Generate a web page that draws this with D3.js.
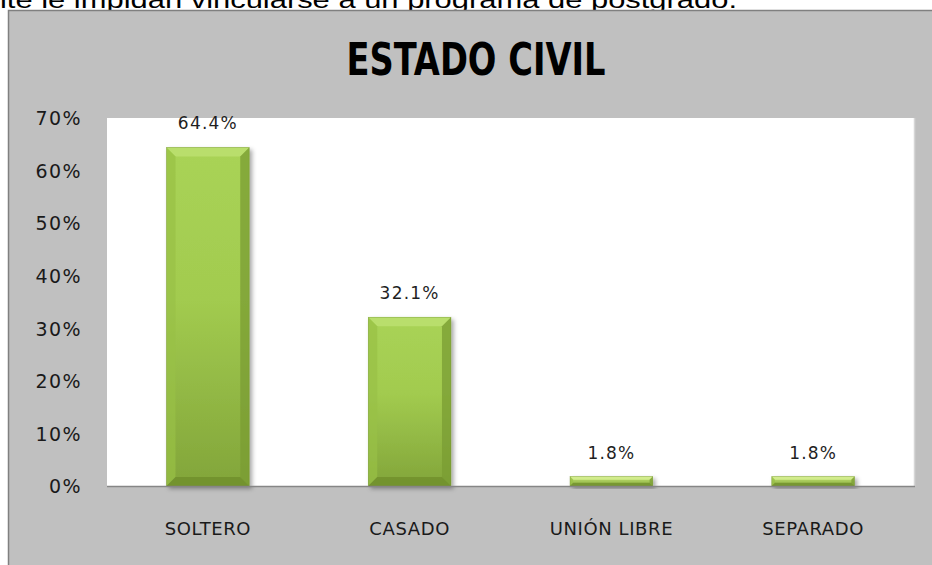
<!DOCTYPE html>
<html>
<head>
<meta charset="utf-8">
<script src="https://cdn.jsdelivr.net/npm/d3@7/dist/d3.min.js"></script>
<style>
  html, body { margin: 0; padding: 0; background: #ffffff; }
  svg { display: block; }
</style>
</head>
<body>
<svg id="chart" width="932" height="565"></svg>
<script>
// Estado civil de los encuestados
const categories = ["SOLTERO", "CASADO", "UNIÓN LIBRE", "SEPARADO"];
const values = [0.644, 0.321, 0.018, 0.018];
const valueLabels = ["64.4%", "32.1%", "1.8%", "1.8%"];
const yTicks = [0, 0.1, 0.2, 0.3, 0.4, 0.5, 0.6, 0.7];
const yTickLabels = ["0%", "10%", "20%", "30%", "40%", "50%", "60%", "70%"];
const title = "ESTADO CIVIL";
const precedingLine = "ite le impidan vincularse a un programa de postgrado.";

const svg = d3.select("#chart");
const defs = svg.append("defs");

// Bar body gradient: light green at the top fading to a deeper green
const grad = defs.append("linearGradient")
  .attr("id", "barBody").attr("x1", 0).attr("y1", 0).attr("x2", 0).attr("y2", 1);
grad.append("stop").attr("offset", "0%").attr("stop-color", "#a9d356");
grad.append("stop").attr("offset", "45%").attr("stop-color", "#a2cb4f");
grad.append("stop").attr("offset", "100%").attr("stop-color", "#82a53a");

const gradSmall = defs.append("linearGradient")
  .attr("id", "barBodySmall").attr("x1", 0).attr("y1", 0).attr("x2", 0).attr("y2", 1);
gradSmall.append("stop").attr("offset", "0%").attr("stop-color", "#bfe070");
gradSmall.append("stop").attr("offset", "100%").attr("stop-color", "#8db043");

const shadow = defs.append("filter").attr("id", "barShadow")
  .attr("x", "-20%").attr("y", "-20%").attr("width", "150%").attr("height", "150%");
shadow.append("feDropShadow")
  .attr("dx", 2.5).attr("dy", 2.5).attr("stdDeviation", 2)
  .attr("flood-color", "#000").attr("flood-opacity", 0.35);

// Text of the page above the chart, clipped by the top edge
svg.append("text")
  .attr("x", 0).attr("y", 7.5)
  .attr("font-family", "Liberation Sans, Arial, sans-serif")
  .attr("font-size", 24)
  .attr("fill", "#000")
  .attr("textLength", 737)
  .attr("lengthAdjust", "spacingAndGlyphs")
  .text(precedingLine);

// Chart frame
svg.append("rect")
  .attr("x", 8.5).attr("y", 10.5).attr("width", 940).attr("height", 570)
  .attr("fill", "#c0c0c0").attr("stroke", "#808080").attr("stroke-width", 1.5);

const plot = { left: 107, right: 914, top: 118, bottom: 486 };

// Plot area
svg.append("rect")
  .attr("x", plot.left).attr("y", plot.top)
  .attr("width", plot.right - plot.left).attr("height", plot.bottom - plot.top)
  .attr("fill", "#ffffff");
svg.append("line")
  .attr("x1", plot.right + 0.5).attr("x2", plot.right + 0.5)
  .attr("y1", plot.top).attr("y2", plot.bottom)
  .attr("stroke", "#d6d6d6").attr("stroke-width", 1.5);

const x = d3.scaleBand()
  .domain(categories)
  .range([plot.left, plot.right])
  .paddingInner(0.59)
  .paddingOuter(0.295);

const y = d3.scaleLinear()
  .domain([0, 0.7])
  .range([plot.bottom, plot.top]);

// Title
svg.append("text")
  .attr("x", 476).attr("y", 75)
  .attr("text-anchor", "middle")
  .attr("font-family", "Liberation Sans Narrow, DejaVu Sans Condensed, Liberation Sans, sans-serif")
  .attr("font-weight", "bold")
  .attr("font-size", 44)
  .attr("fill", "#000")
  .attr("textLength", 259)
  .attr("lengthAdjust", "spacingAndGlyphs")
  .text(title);

// Y axis labels
const yAxis = d3.axisLeft(y)
  .tickValues(yTicks)
  .tickFormat((d, i) => yTickLabels[i])
  .tickSize(0)
  .tickPadding(25);
const yg = svg.append("g")
  .attr("transform", `translate(${plot.left},0)`)
  .call(yAxis);
yg.select(".domain").remove();
yg.selectAll("text")
  .attr("font-family", "DejaVu Sans, Verdana, sans-serif")
  .attr("font-size", 19)
  .attr("letter-spacing", 1.4)
  .attr("fill", "#1a1a1a")
  .attr("dy", "0.36em");

// X axis labels
const xAxis = d3.axisBottom(x).tickSize(0).tickPadding(36);
const xg = svg.append("g")
  .attr("transform", `translate(0,${plot.bottom})`)
  .call(xAxis);
xg.select(".domain").remove();
xg.selectAll("text")
  .attr("font-family", "DejaVu Sans, Verdana, sans-serif")
  .attr("font-size", 18)
  .attr("letter-spacing", 0.6)
  .attr("fill", "#1a1a1a");

// Bars with a bevelled edge
const bars = svg.append("g").selectAll("g.bar")
  .data(categories.map((c, i) => ({ c, v: values[i], label: valueLabels[i] })))
  .join("g")
  .attr("class", "bar")
  .attr("filter", "url(#barShadow)");

bars.each(function (d) {
  const g = d3.select(this);
  const x0 = x(d.c), w = x.bandwidth();
  const y0 = y(d.v), h = y(0) - y(d.v);
  const b = Math.min(9, h / 3, w / 3);
  const x1 = x0 + w, y1 = y0 + h;
  g.append("rect")
    .attr("x", x0).attr("y", y0).attr("width", w).attr("height", h)
    .attr("fill", h > 40 ? "url(#barBody)" : "url(#barBodySmall)");
  const pts = a => a.map(p => p.join(",")).join(" ");
  // top facet
  g.append("polygon")
    .attr("points", pts([[x0, y0], [x1, y0], [x1 - b, y0 + b], [x0 + b, y0 + b]]))
    .attr("fill", h > 40 ? "#b9de6c" : "#d2ec8c");
  // left facet
  g.append("polygon")
    .attr("points", pts([[x0, y0], [x0 + b, y0 + b], [x0 + b, y1 - b], [x0, y1]]))
    .attr("fill", "#98c046").attr("opacity", 0.7);
  // right facet
  g.append("polygon")
    .attr("points", pts([[x1, y0], [x1, y1], [x1 - b, y1 - b], [x1 - b, y0 + b]]))
    .attr("fill", "#7a9c33").attr("opacity", 0.75);
  // bottom facet
  g.append("polygon")
    .attr("points", pts([[x0, y1], [x0 + b, y1 - b], [x1 - b, y1 - b], [x1, y1]]))
    .attr("fill", "#6f8f2c").attr("opacity", 0.8);
  g.append("rect")
    .attr("x", x0).attr("y", y0).attr("width", w).attr("height", h)
    .attr("fill", "none").attr("stroke", "#6f8f2c").attr("stroke-width", 0.6).attr("stroke-opacity", 0.6);
});

// Baseline
svg.append("line")
  .attr("x1", plot.left).attr("x2", plot.right + 1)
  .attr("y1", plot.bottom + 0.5).attr("y2", plot.bottom + 0.5)
  .attr("stroke", "#868686").attr("stroke-width", 1.5);

// Value labels above the bars
svg.append("g").selectAll("text")
  .data(categories.map((c, i) => ({ c, v: values[i], label: valueLabels[i] })))
  .join("text")
  .attr("x", d => x(d.c) + x.bandwidth() / 2)
  .attr("y", d => y(d.v) - 18)
  .attr("text-anchor", "middle")
  .attr("font-family", "DejaVu Sans, Verdana, sans-serif")
  .attr("font-size", 17)
  .attr("letter-spacing", 1.2)
  .attr("fill", "#1f1f1f")
  .text(d => d.label);
</script>
</body>
</html>
